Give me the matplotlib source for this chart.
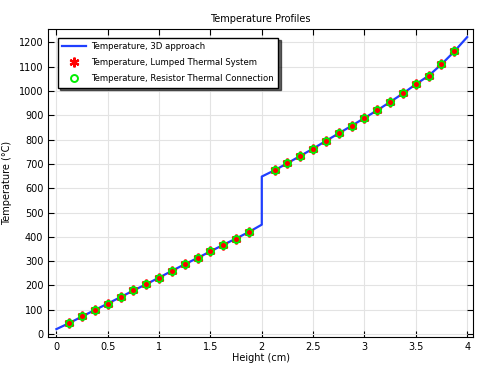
import numpy as np
import matplotlib.pyplot as plt

# Valores
alturas_baixo = [0.125, 0.25, 0.375, 0.5, 0.625, 0.75, 0.875, 1.0, 1.125, 1.25, 1.375, 1.5, 1.625, 1.75, 1.875]
temp_baixo = [45, 72, 99, 125, 152, 179, 205, 232, 260, 287, 313, 340, 367, 393, 420]
alturas_cima = [2.125, 2.25, 2.375, 2.5, 2.625, 2.75, 2.875, 3.0, 3.125, 3.25, 3.375, 3.5, 3.625, 3.75, 3.875]
temp_cima = [674, 703, 733, 763, 795, 826, 857, 889, 921, 955, 990, 1028, 1063, 1110, 1163]

# Linha do modelo 3D (inclui extremos e o salto em 2 cm)
x_linha = [0.0] + alturas_baixo + [2.0, 2.0] + alturas_cima + [4.0]
y_linha = [20] + temp_baixo + [450, 648] + temp_cima + [1222]

x_pontos = alturas_baixo + alturas_cima
y_pontos = temp_baixo + temp_cima

xticks = [0, 0.5, 1, 1.5, 2, 2.5, 3, 3.5, 4]
xticklabels = ['0', '0.5', '1', '1.5', '2', '2.5', '3', '3.5', '4']
yticks = list(range(0, 1300, 100))

fig, ax = plt.subplots(figsize=(4.82, 3.65), dpi=100)
fig.subplots_adjust(left=0.1, right=0.982, top=0.921, bottom=0.077)

ax.plot(x_linha, y_linha, color='#1f3fff', lw=1.6, label='Temperature, 3D approach', zorder=3)
ax.plot(x_pontos, y_pontos, ls='none', marker=(6, 2, 0), ms=7, mew=1.6, color='red',
        label='Temperature, Lumped Thermal System', zorder=4)
ax.plot(x_pontos, y_pontos, ls='none', marker='o', ms=5, mfc='none', mec='#00ee00', mew=1.4,
        label='Temperature, Resistor Thermal Connection', zorder=5)

ax.set_xlim(-0.08, 4.06)
ax.set_ylim(-12, 1256)
ax.set_xticks(xticks)
ax.set_xticklabels(xticklabels)
ax.set_yticks(yticks)
ax.tick_params(direction='in', top=True, right=True, labelsize=7, length=4, width=0.8)
ax.grid(True, color='#e3e3e3', lw=0.8)
ax.set_axisbelow(True)
for s in ax.spines.values():
    s.set_linewidth(0.8)

ax.set_title('Temperature Profiles', fontsize=7, pad=5)
ax.set_xlabel('Height (cm)', fontsize=7, labelpad=1)
ax.set_ylabel('Temperature (°C)', fontsize=7, labelpad=5)

leg = ax.legend(loc='upper left', bbox_to_anchor=(0.012, 0.985), fontsize=6.1, frameon=True,
                fancybox=False, shadow={'color': 'black', 'alpha': 0.6}, edgecolor='black',
                framealpha=1, handlelength=2.8, handletextpad=0.6, borderpad=0.55,
                labelspacing=0.8)
leg.get_frame().set_linewidth(1.0)

fig.savefig('out.png', dpi=100)
